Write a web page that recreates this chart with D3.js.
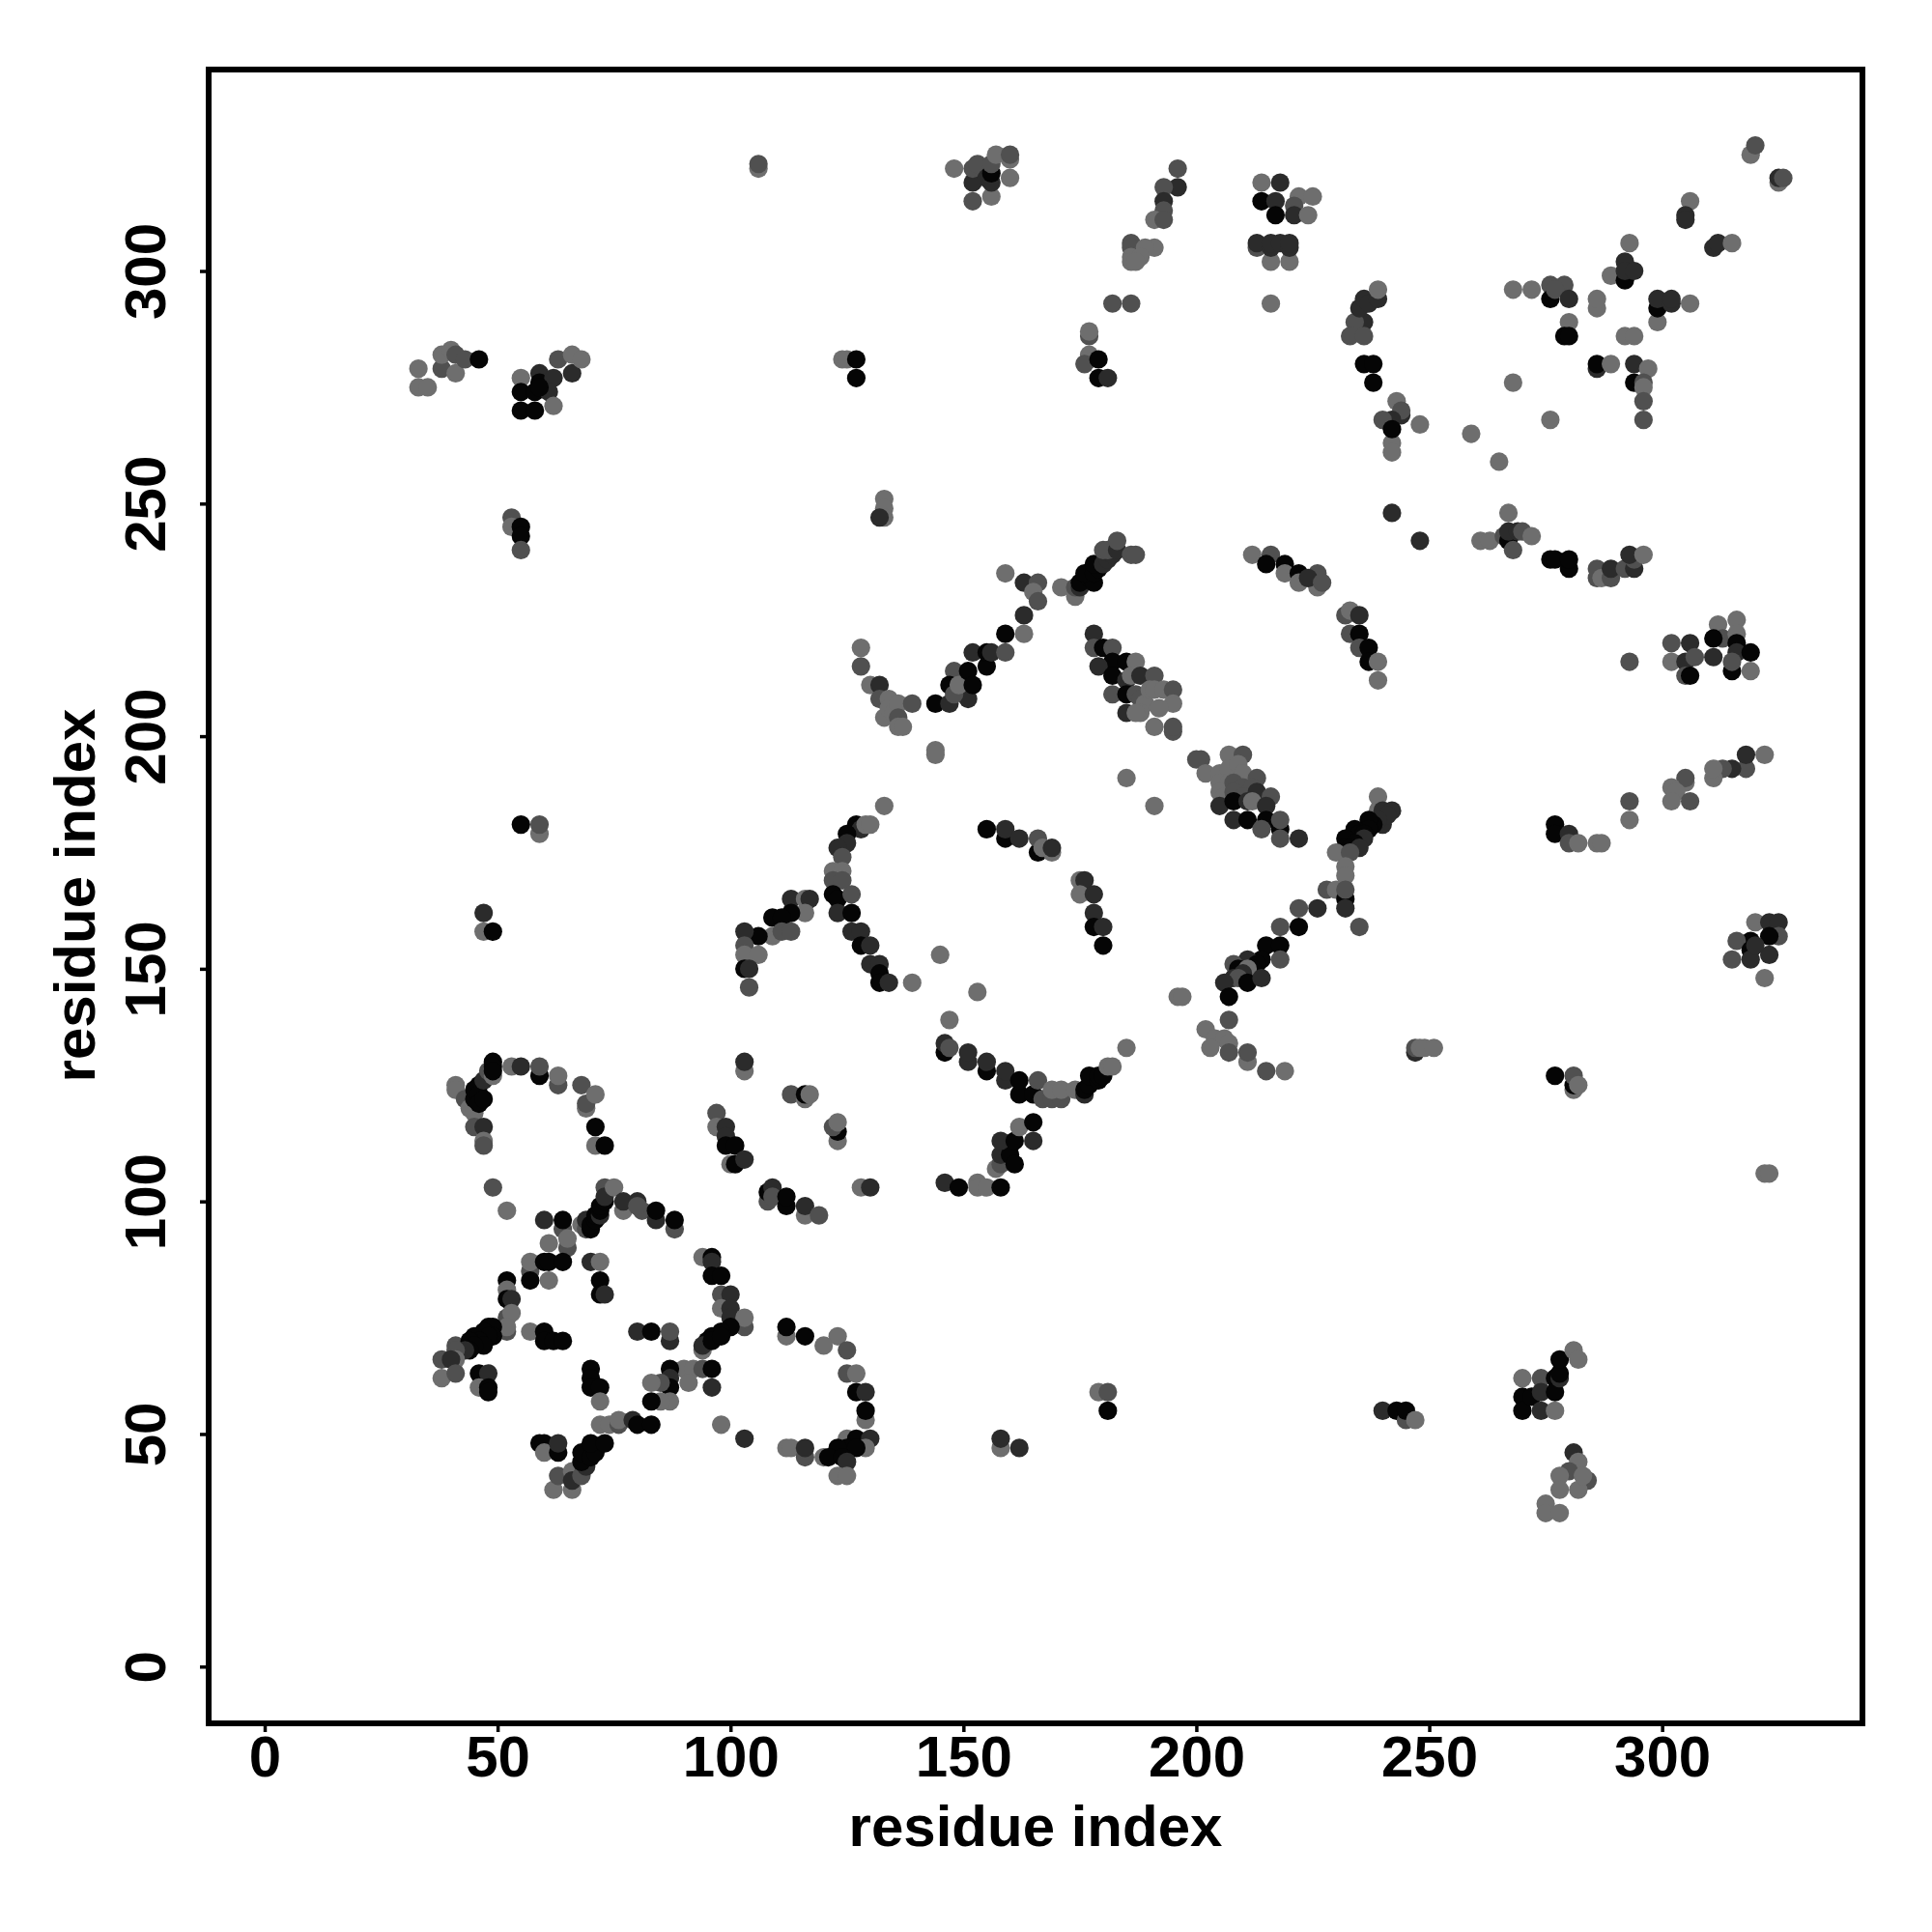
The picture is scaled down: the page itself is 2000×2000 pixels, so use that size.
<!DOCTYPE html>
<html><head><meta charset="utf-8">
<script src="https://cdn.jsdelivr.net/npm/d3@7"></script>
<style>html,body{margin:0;background:#fff}svg{display:block}</style></head>
<body><svg id="c" width="2000" height="2000"></svg>
<script>
// each contact: [residue i, residue j, shade level 0 (black) .. 3 (light gray)]
const arcLeft=[[41,125,3],[41,124,3],[43,122,2],[44,120,3],[45,119,3],[45,122,0],[45,124,0],[46,125,0],[46,123,0],[46,121,0],[47,126,1],[48,128,2],[49,127,3],[49,130,0],[49,129,0],[49,128,0],[47,122,0],[45,116,2],[47,116,1],[47,113,3],[47,112,2],[53,129,3],[55,129,1],[59,127,0],[59,129,2],[63,125,2],[63,127,3],[68,125,2],[69,120,3],[69,121,2],[71,123,3],[71,116,0],[71,112,3],[73,112,0],[49,103,2],[52,98,3]];
const loopUpper=[[60,96,1],[64,94,2],[64,96,0],[65,90,2],[65,92,3],[61,91,3],[57,85,2],[57,87,3],[60,87,0],[61,87,0],[64,87,0],[57,83,0],[61,83,3],[68,95,3],[69,94,2],[69,96,1],[70,94,0],[70,95,0],[71,96,0],[71,97,0],[72,97,1],[72,98,0],[72,99,0],[73,100,0],[73,103,2],[73,101,1],[75,103,3],[77,98,3],[77,100,1],[80,100,1],[81,98,2],[80,99,2],[84,96,1],[84,98,0],[88,94,2],[88,96,0],[70,87,1],[72,87,3],[72,83,0],[72,80,0],[73,80,1]];
const loopLower=[[52,83,0],[52,81,3],[52,79,0],[53,79,1],[52,75,2],[53,76,3],[52,72,2],[52,73,3],[41,69,2],[48,73,0],[49,73,0],[47,72,0],[49,71,0],[48,71,0],[45,71,0],[46,70,0],[44,70,0],[47,69,0],[45,69,0],[44,68,0],[43,68,1],[41,68,2],[41,66,3],[38,66,2],[40,66,1],[38,62,3],[41,63,2],[46,63,0],[48,63,1],[46,60,3],[48,60,0],[48,59,0],[57,72,3],[60,72,0],[60,70,0],[62,70,0],[64,70,0],[70,64,0],[70,62,0],[70,60,0],[72,60,0],[72,57,3],[80,72,1],[83,72,0],[87,70,1],[87,72,2]];
const loopRight=[[94,88,3],[96,88,0],[96,87,1],[96,84,0],[98,84,0],[98,80,2],[100,80,1],[98,77,3],[100,77,1],[100,75,1],[103,73,2],[103,75,3],[100,73,0],[94,68,3],[98,72,0],[96,71,0],[95,70,0],[94,69,1],[96,70,0],[98,71,0],[90,64,3],[92,64,3],[94,64,2],[96,64,0],[87,64,0],[87,62,1],[87,60,0],[91,61,3],[85,61,2],[83,61,3],[87,57,3],[85,57,3],[83,57,0],[96,60,1],[98,52,3],[103,49,1]];
const loopBottom=[[72,52,3],[74,52,3],[76,52,2],[76,53,3],[79,53,1],[80,52,0],[83,52,0],[59,48,0],[60,48,0],[60,46,3],[63,46,0],[63,48,1],[62,38,3],[66,38,3],[63,41,2],[66,42,3],[66,40,1],[68,41,2],[69,43,1],[68,44,0],[68,46,0],[70,45,0],[71,46,0],[70,48,0],[73,48,0]];
const arcRightLow=[[112,71,3],[112,73,0],[116,71,0],[123,71,3],[120,69,3],[125,68,2],[125,63,2],[127,63,3],[127,59,0],[129,59,1],[129,53,3],[129,55,0],[125,49,3],[127,49,0],[130,49,1],[129,47,3],[125,47,0],[127,47,0],[123,47,0],[120,45,3],[121,45,0],[124,45,0],[125,44,1],[123,41,3],[125,41,3],[112,47,3],[113,47,3],[116,45,2],[116,47,1]];
const arcMiddle=[[103,128,3],[103,130,1],[113,123,2],[116,122,3],[116,123,0],[117,123,3],[123,113,3],[123,115,0],[122,116,2],[123,117,3],[97,119,2],[97,116,3],[99,116,1],[99,114,1],[99,112,0],[101,112,0],[100,108,3],[101,108,0],[103,109,1],[108,100,2],[108,102,0],[109,103,1],[109,101,2],[112,99,0],[112,101,0],[116,97,3],[116,99,1],[119,97,2],[128,103,3],[130,103,1]];
const arcUpperLeft=[[128,219,3],[128,215,2],[130,211,3],[132,211,1],[132,208,2],[134,208,3],[133,204,3],[134,206,3],[135,205,3],[136,207,3],[139,207,2],[136,204,2],[136,202,3],[137,202,3],[144,207,0],[147,207,1],[151,208,1],[148,214,2],[147,211,0],[148,209,2],[149,211,3],[151,214,0],[152,211,0],[152,218,1],[155,215,0],[155,218,0],[156,218,1],[159,218,2],[159,222,0],[163,222,3],[163,226,1],[144,197,3],[144,196,3],[133,185,3]];
const arcCentreLeft=[[127,181,0],[128,180,1],[129,181,3],[130,181,3],[125,179,0],[125,177,1],[123,176,1],[124,174,2],[122,171,3],[124,171,3],[122,169,2],[124,169,2],[122,166,0],[123,165,0],[126,166,2],[123,162,1],[126,162,0],[126,158,1],[128,158,1],[128,155,0],[130,155,1],[130,151,1],[132,151,1],[132,149,0],[132,147,0],[134,147,1],[139,147,3],[113,165,1],[116,165,3],[117,165,1],[116,162,3],[113,162,0],[109,161,0],[111,161,0],[109,157,3],[111,158,2],[113,158,2],[106,157,0],[103,158,1],[103,155,2],[103,153,3],[106,153,3],[103,150,0],[104,150,1],[104,146,2]];
const arcCentre=[[155,180,0],[159,178,0],[159,180,1],[162,178,1],[166,175,0],[166,178,2],[167,176,3],[169,175,3],[169,176,1],[175,169,3],[176,169,1],[175,166,3],[178,166,1],[178,162,1],[178,159,0],[180,159,1],[180,155,0],[145,153,3],[153,145,3],[147,139,3],[185,191,3],[191,185,3],[196,144,3],[197,144,3],[185,133,3]];
const arcLowerCentre=[[146,132,0],[146,134,1],[147,133,2],[151,130,1],[151,132,1],[155,128,0],[155,130,1],[159,126,1],[159,128,1],[162,123,0],[162,126,0],[165,123,0],[166,126,2],[167,122,2],[169,122,2],[171,122,2],[169,124,3],[171,124,3],[174,124,3],[176,123,1],[176,124,0],[177,125,0],[177,127,0],[179,126,0],[179,127,0],[180,127,0],[181,129,3],[182,129,3]];
const arcSmallLow=[[146,104,1],[149,103,0],[153,104,3],[153,103,3],[155,103,3],[157,107,3],[158,103,0],[158,108,2],[158,110,1],[160,112,0],[160,110,0],[161,108,0],[158,113,1],[161,113,0],[162,116,3],[165,113,1],[165,117,0]];
const bandUpper=[[178,222,1],[178,219,2],[180,219,0],[182,219,2],[182,216,0],[179,215,1],[182,209,2],[182,213,0],[185,212,1],[185,216,0],[187,216,3],[185,209,0],[185,205,1],[186,213,3],[188,213,1],[191,213,2],[187,209,2],[188,208,2],[189,207,3],[190,210,3],[191,210,3],[193,210,3],[195,210,2],[195,207,3],[192,206,3],[188,205,3],[187,205,3],[191,202,3],[195,201,2],[195,202,2]];
const bandCentre=[[201,195,2],[200,195,2],[202,192,3],[207,196,3],[210,196,2],[205,192,3],[207,193,3],[209,194,3],[210,192,3],[205,190,3],[207,190,3],[205,188,3],[206,187,3],[213,191,2],[208,190,2],[210,189,2],[212,189,2],[208,188,2],[210,187,2],[213,188,1],[216,187,2],[205,185,1],[208,186,0],[211,186,1],[212,186,3],[215,185,1],[208,182,1],[211,182,0],[215,182,0],[214,180,2],[218,180,0],[218,182,2],[218,178,2],[222,178,1]];
const diagCentre=[[239,187,3],[239,184,3],[240,184,1],[242,184,1],[240,181,1],[241,183,1],[239,182,1],[238,181,0],[237,182,0],[237,180,0],[234,180,0],[235,179,0],[236,179,0],[232,178,0],[236,178,1],[234,177,0],[232,176,0],[233,176,0],[235,176,1],[230,175,3],[233,175,2],[232,172,3],[232,170,3],[228,167,2],[230,167,3],[232,165,0],[232,167,2],[232,163,1],[235,159,2],[226,163,1],[222,163,2],[222,159,0],[218,159,2],[215,155,0],[218,155,0],[218,152,2],[214,152,0],[211,152,1],[213,151,0],[212,150,0],[208,151,2],[209,150,0],[211,150,3],[210,149,1],[208,148,1],[209,148,2],[211,147,0],[214,148,1],[206,147,1],[207,144,0]];
const arcLowCentreRight=[[207,139,2],[202,137,3],[204,135,3],[206,135,3],[203,133,3],[207,134,3],[207,132,2],[211,130,3],[211,132,2],[215,128,2],[219,128,3],[247,132,1],[247,133,2],[248,133,3],[249,133,3],[251,133,3],[277,127,0],[281,124,3],[281,125,0],[281,127,2],[282,125,3]];
const bandUpperRight=[[242,248,1],[248,242,1],[267,248,3],[261,242,3],[263,242,3],[266,243,2],[267,242,0],[267,244,1],[269,244,1],[270,244,2],[268,240,2],[272,243,3],[276,238,0],[277,238,0],[280,236,0],[280,238,0],[286,234,2],[286,236,2],[287,234,3],[289,234,2],[289,236,1],[292,236,2],[294,236,1],[294,238,2],[293,239,1],[296,239,3]];
const bandTopCentre=[[212,239,3],[216,239,2],[215,237,0],[219,237,0],[219,235,3],[222,235,0],[222,233,3],[226,232,3],[226,235,2],[224,234,1],[227,233,2],[232,226,2],[233,227,3],[235,226,1],[233,222,2],[235,222,0],[235,219,2],[237,219,0],[237,216,0],[239,212,3],[239,216,3]];
const clusterRightMid=[[293,216,2],[302,220,2],[302,216,3],[306,220,1],[305,216,1],[307,217,2],[305,213,2],[306,213,0],[312,224,3],[316,225,3],[313,221,2],[311,221,0],[316,222,3],[316,220,0],[311,217,1],[316,218,1],[319,218,0],[315,214,0],[319,214,3],[315,216,2]];
const bandRight=[[322,196,3],[318,193,2],[318,196,1],[315,193,1],[313,193,2],[311,191,3],[311,193,3],[305,190,3],[305,191,2],[302,189,3],[303,188,3],[302,186,3],[306,186,2],[293,182,3],[293,186,2],[277,181,0],[277,179,0],[280,179,1],[280,177,2],[282,177,3],[286,177,3],[287,177,3]];
const clusterRightLow=[[320,160,3],[323,160,1],[325,160,1],[325,157,2],[323,157,0],[319,156,0],[316,156,2],[315,152,2],[319,154,0],[319,152,1],[323,153,1],[320,155,1],[322,148,3],[322,106,3],[323,106,3]];
const diagUpper=[[163,233,1],[166,233,2],[165,231,3],[166,229,2],[159,235,3],[171,232,3],[174,230,3],[174,232,2],[175,232,1],[175,233,0],[177,234,0],[178,233,0],[176,235,0],[178,235,0],[179,236,0],[178,237,0],[180,237,1],[181,238,1],[182,239,1],[180,240,2],[181,240,2],[183,240,1],[183,242,2],[186,239,2],[187,239,2]];
const clusterTopA=[[196,318,1],[196,322,2],[193,318,2],[193,315,1],[193,313,2],[191,311,3],[193,311,2],[186,306,2],[186,305,2],[191,305,3],[189,305,3],[186,303,3],[186,302,3],[188,303,3],[187,302,3],[182,293,2],[186,293,2],[177,286,2],[177,287,3],[177,281,2],[177,282,3],[176,280,2],[179,281,0],[179,277,0],[181,277,1]];
const clusterTopB=[[214,319,3],[218,319,1],[214,315,0],[217,315,1],[222,316,3],[225,316,3],[221,314,2],[217,312,0],[221,312,1],[224,312,3],[216,302,3],[220,302,3],[213,305,2],[213,306,1],[216,305,1],[216,306,1],[218,306,1],[220,305,1],[220,306,1],[216,293,3]];
const clusterTopC=[[236,289,1],[234,289,2],[233,286,2],[236,286,2],[235,292,1],[236,294,1],[237,293,1],[239,294,1],[239,296,3],[236,280,0],[238,280,0],[238,276,0],[243,272,3],[244,269,1],[244,270,2],[242,268,1],[240,268,2],[242,263,3],[242,261,3],[242,266,0],[248,267,3],[259,265,3],[265,259,3],[268,276,3],[276,268,3]];
const clusterTopRight=[[268,296,3],[272,296,3],[276,297,2],[279,297,2],[276,294,0],[277,296,2],[280,294,1],[286,292,3],[286,294,3],[280,289,3],[279,286,0],[280,286,0],[292,286,3],[294,286,3],[286,279,1],[286,280,0],[289,280,3],[294,280,1],[297,279,3],[294,276,0],[296,276,2],[296,275,3],[296,272,2],[296,268,2],[293,306,3],[289,299,3],[292,302,1],[292,298,0],[292,300,1],[294,300,1],[299,289,3],[299,292,0],[299,294,1],[302,293,1],[302,294,1],[306,293,3],[306,315,3],[305,312,1],[305,311,1],[311,305,1],[312,306,1],[315,306,3],[319,325,3],[320,327,2],[325,319,3],[325,320,1],[326,320,2]];
const clusterTop=[[106,322,3],[106,323,2],[148,322,3],[152,315,2],[152,319,1],[152,322,2],[153,323,2],[155,320,1],[156,316,3],[156,319,1],[156,321,0],[156,323,2],[157,325,3],[160,320,3],[160,324,3],[160,325,2]];
const clusterTopLeft=[[33,279,3],[33,275,3],[35,275,3],[38,279,2],[38,282,3],[40,283,3],[41,278,3],[41,282,2],[43,281,2],[46,281,0],[55,277,3],[55,274,0],[58,274,0],[59,278,1],[59,276,0],[62,277,1],[61,274,1],[55,270,0],[58,270,0],[62,271,3],[59,275,0],[63,281,2],[66,278,1],[66,282,3],[68,281,3]];
const scatterLeft=[[53,247,2],[53,245,3],[55,245,0],[55,243,0],[55,240,2],[55,181,0],[59,179,3],[59,181,2],[47,158,3],[47,162,1],[49,158,0],[124,281,3],[125,281,3],[127,281,0],[127,277,0],[133,251,3],[133,249,3],[133,247,3],[132,247,1]];
const clusterBottomRight=[[270,62,3],[270,58,0],[270,55,0],[272,58,0],[274,62,2],[274,59,1],[274,55,1],[277,55,3],[277,62,0],[277,59,0],[278,62,1],[278,63,0],[278,66,0],[281,68,3],[282,66,3],[281,46,1],[282,44,3],[280,42,2],[284,40,2],[278,41,3],[278,38,3],[282,38,3],[283,41,3],[275,35,3],[275,33,3],[278,33,3]];
const scatterBottom=[[240,55,1],[243,55,0],[245,53,2],[245,55,0],[247,53,3],[179,59,3],[181,59,2],[181,55,0],[158,47,3],[158,49,1],[162,47,1]];
const tickLabels=[0,50,100,150,200,250,300];

const contacts=[].concat(arcLeft,loopUpper,loopLower,loopRight,loopBottom,arcRightLow,arcMiddle,arcUpperLeft,arcCentreLeft,arcCentre,arcLowerCentre,arcSmallLow,bandUpper,bandCentre,diagCentre,arcLowCentreRight,bandUpperRight,bandTopCentre,clusterRightMid,bandRight,clusterRightLow,diagUpper,clusterTopA,clusterTopB,clusterTopC,clusterTopRight,clusterTop,clusterTopLeft,scatterLeft,clusterBottomRight,scatterBottom);

const L=216,R=1928,T=72,B=1784;
const x=d3.scaleLinear().domain([-12.03,343]).range([L,R]);
const y=d3.scaleLinear().domain([-12.2,343.3]).range([B,T]);
const shade=d3.scaleOrdinal().domain([0,1,2,3]).range(["#050505","#2b2b2b","#505050","#6e6e6e"]);
const font='"Liberation Sans",Arial,sans-serif';
const svg=d3.select("#c");
svg.append("rect").attr("width",2000).attr("height",2000).attr("fill","#fff");
svg.append("g").selectAll("circle").data(contacts).join("circle")
  .attr("cx",d=>x(d[0])).attr("cy",d=>y(d[1])).attr("r",9.6).attr("fill",d=>shade(d[2]));
const gx=svg.append("g").attr("transform",`translate(0,${B})`)
  .call(d3.axisBottom(x).tickValues(tickLabels).tickSize(9).tickSizeOuter(0));
const gy=svg.append("g").attr("transform",`translate(${L},0)`)
  .call(d3.axisLeft(y).tickValues(tickLabels).tickSize(9).tickSizeOuter(0));
[gx,gy].forEach(g=>{g.select(".domain").remove();
  g.selectAll("line").attr("stroke","#000").attr("stroke-width",3.5);});
gx.selectAll("text").attr("y",55).attr("dy",0);
gy.selectAll("text").attr("x",0).attr("dy",0).attr("text-anchor","middle").attr("transform","translate(-45,0) rotate(-90)");
svg.selectAll("g text").attr("font-family",font).attr("font-weight",700).attr("font-size",60).attr("fill","#000");
svg.append("rect").attr("x",L).attr("y",T).attr("width",R-L).attr("height",B-T).attr("fill","none").attr("stroke","#000").attr("stroke-width",6);
svg.append("text").attr("x",1072).attr("y",1910.5).attr("text-anchor","middle").attr("font-family",font).attr("font-weight",700).attr("font-size",60).text("residue index");
svg.append("text").attr("transform","translate(98,927) rotate(-90)").attr("text-anchor","middle").attr("font-family",font).attr("font-weight",700).attr("font-size",60).text("residue index");
</script></body></html>
